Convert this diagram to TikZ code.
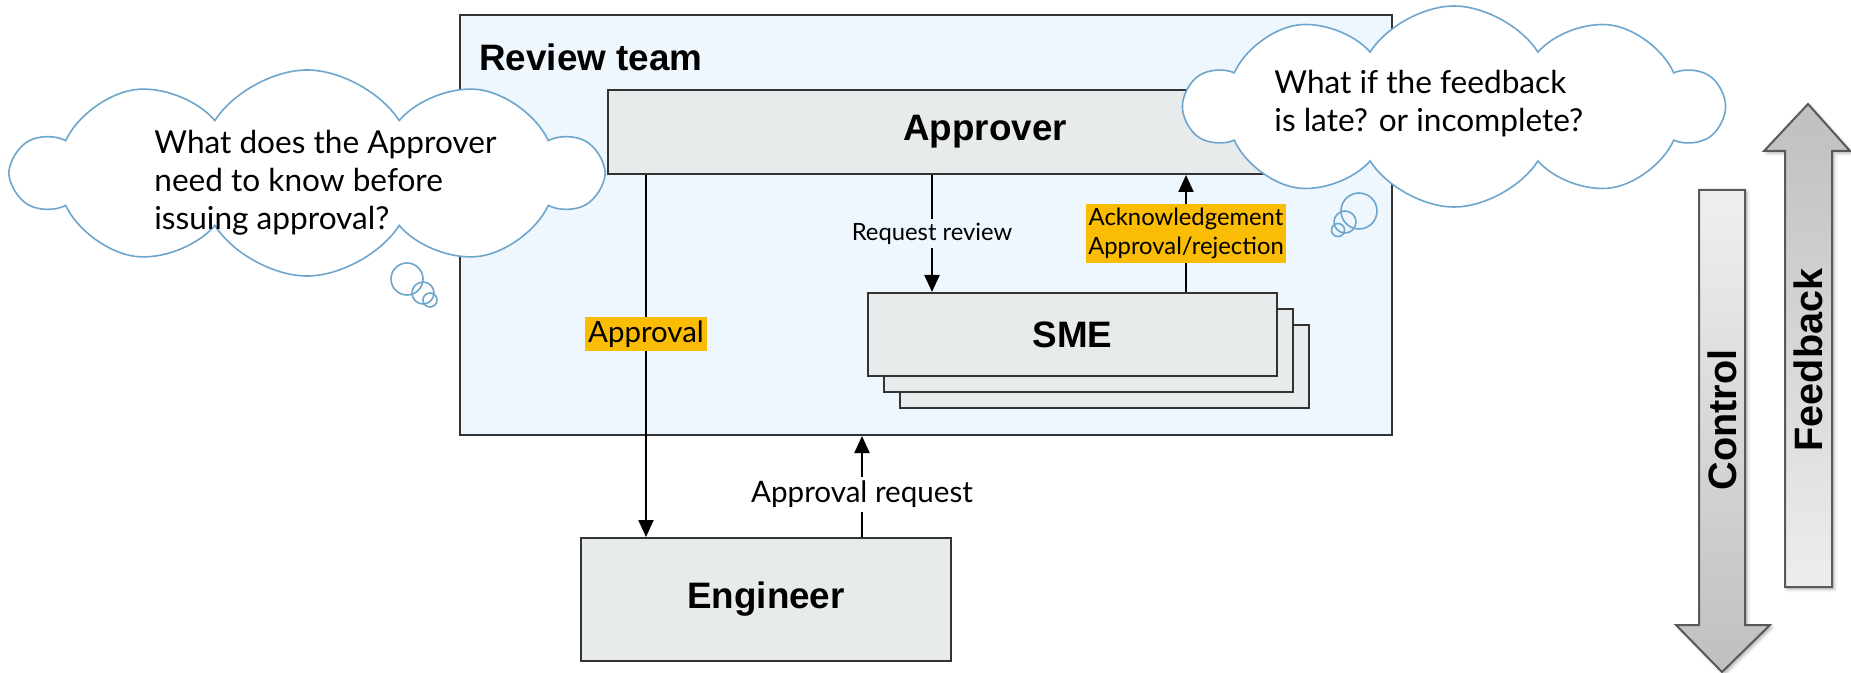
\documentclass[tikz,border=0pt]{standalone}
\usepackage{fontspec}
\setmainfont{Lato}
\setsansfont{Liberation Sans}
\usepackage{tikz}
\usetikzlibrary{positioning,calc,arrows.meta,shapes.symbols,shadows.blur}
\definecolor{teamblue}{HTML}{EEF6FE}
\definecolor{boxgray}{HTML}{E8EBEC}
\definecolor{edgegray}{HTML}{333333}
\definecolor{tagorange}{HTML}{FBBC04}
\definecolor{cloudblue}{HTML}{6DA5CD}
\def\headfont{\sffamily\bfseries\fontsize{18.4}{22}\selectfont}
\def\bigfont{\sffamily\bfseries\fontsize{19.8}{24}\selectfont}
\tikzstyle{flow} = [line width=1.1pt,-{Triangle[length=8.5pt,width=7.5pt]}]

\begin{document}
\begin{tikzpicture}[x=1pt,y=-1pt]
    \tikzstyle{role}=[draw=edgegray,fill=boxgray,line width=1pt,font=\headfont,inner sep=0pt]
    \tikzstyle{tag}=[fill=tagorange,font=\fontsize{14.7}{17}\selectfont,inner xsep=1.5pt,inner ysep=1.8pt]
    \tikzstyle{note}=[font=\fontsize{14.8}{17}\selectfont,inner xsep=1pt,inner ysep=2pt]
    \tikzstyle{small note}=[font=\fontsize{11.9}{14.8}\selectfont,inner xsep=1pt,inner ysep=1.75pt,align=center]
    \tikzstyle{thought}=[cloud,cloud puffs=10,cloud puff arc=115,cloud ignores aspect,draw=cloudblue,fill=white,line width=0.8pt]
    \tikzstyle{thought text}=[font=\fontsize{15.8}{19}\selectfont,align=left,inner sep=0pt,anchor=west]
    \tikzstyle{bubble}=[circle,draw=cloudblue,line width=0.8pt,inner sep=0pt]
    \tikzstyle{bigarrow}=[draw=black!65,line width=1pt,blur shadow={shadow xshift=1.2pt,shadow yshift=-1.2pt,shadow blur radius=1.5pt,shadow opacity=30}]

    \useasboundingbox (0,0) rectangle (925.5,336.5);

    % Review team frame
    \node[draw=edgegray,fill=teamblue,line width=1pt,minimum width=466pt,minimum height=210pt,anchor=north west] (team) at (229.5,7) {};
    \node[font=\headfont,inner sep=0pt,anchor=west] (team-title) at (239.5,28.5) {Review team};

    % Roles
    \node[role,minimum width=364pt,minimum height=42pt,anchor=west] (approver) at (303.5,66) {};
    \node[font=\headfont,inner sep=0pt] (approver-name) at (492.5,66) {Approver};
    \foreach \k in {2,1}
        \node[role,minimum width=204.5pt,minimum height=41.5pt] (sme-\k) at ($(536.25,167.25)+(8*\k,8*\k)$) {};
    \node[role,minimum width=204.5pt,minimum height=41.5pt] (sme) at (536.25,167.25) {SME};
    \node[role,minimum width=185pt,minimum height=61.5pt] (engineer) at (383,299.75) {Engineer};

    % Connectors
    \coordinate (approval-top) at ($(approver.south west)+(19.5,0)$);
    \coordinate (review-top) at ($(approver.south west)+(162.5,0)$);
    \coordinate (ack-foot) at ($(sme.north west)+(159.5,0)$);
    \coordinate (request-foot) at ($(engineer.north west)+(141,0)$);

    \draw[flow] (approval-top) -- node[tag,pos=0.44] (approval-tag) {Approval} (approval-top |- engineer.north);
    \draw[flow] (review-top) -- node[small note,fill=teamblue] (review-label) {Request review} (review-top |- sme.north);
    \draw[flow] (ack-foot) -- node[small note,fill=tagorange] (ack-tag) {Acknowledgement\\Approval/rejection} (ack-foot |- approver.south);
    \draw[flow] (request-foot) -- node[note,fill=white,pos=0.42] (request-label) {Approval request} (request-foot |- team.south);

    % Thought clouds
    \node[thought,minimum width=293pt,minimum height=103pt] (cloud-left) at (153.5,86.5) {};
    \node[thought text] (cloud-left-text) at (77,91.5) {What does the Approver\\need to know before\\issuing approval?};
    \node[bubble,minimum size=16pt] (dot-l1) at (203.5,139.5) {};
    \node[bubble,minimum size=11pt] (dot-l2) at (211.5,146.5) {};
    \node[bubble,minimum size=7pt] (dot-l3) at (215,150) {};

    \node[thought,minimum width=268pt,minimum height=100.5pt] (cloud-right) at (727,53.25) {};
    \node[thought text] (cloud-right-text) at (637,52) {What if the feedback\\is late? or incomplete?};
    \node[bubble,minimum size=18pt] (dot-r1) at (679.5,105.5) {};
    \node[bubble,minimum size=11pt] (dot-r2) at (672.5,111) {};
    \node[bubble,minimum size=6.5pt] (dot-r3) at (669,115) {};

    % Control / feedback arrows
    \draw[bigarrow,top color=black!6,bottom color=black!25] (849.5,95) -- (872.5,95) -- (872.5,312.5) -- (885,312.5) -- (861,336) -- (838,312.5) -- (849.5,312.5) -- cycle;
    \node[font=\bigfont,rotate=90] (control) at (861,210) {Control};
    \draw[bigarrow,top color=black!25,bottom color=black!7] (892.5,293.5) -- (916,293.5) -- (916,75.5) -- (925,75.5) -- (904,52) -- (882,75.5) -- (892.5,75.5) -- cycle;
    \node[font=\bigfont,rotate=90] (feedback) at (904,180) {Feedback};
\end{tikzpicture}
\end{document}
